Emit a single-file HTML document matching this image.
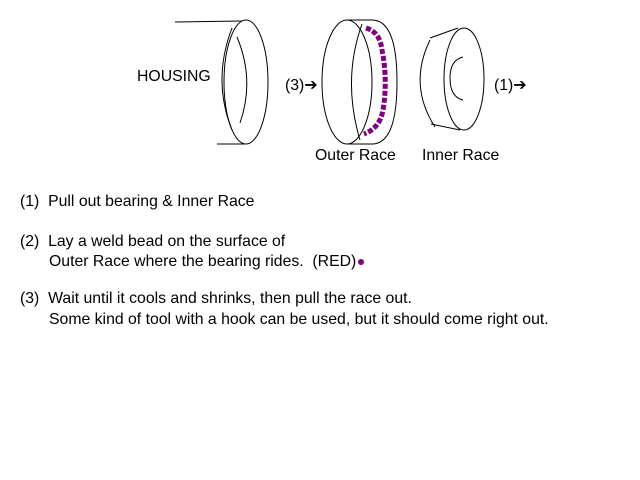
<!DOCTYPE html>
<html><head><style>
body{margin:0;background:#fff;width:640px;height:480px;overflow:hidden;position:relative;font-family:"Liberation Sans",sans-serif;color:#000}
.t{position:absolute;font-size:15.8px;white-space:nowrap}
</style></head><body>
<svg width="640" height="480" style="position:absolute;left:0;top:0" fill="none" stroke="#000" stroke-width="1">
<!-- housing -->
<line x1="175" y1="22" x2="242" y2="21"/>
<line x1="217" y1="144" x2="245" y2="144"/>
<ellipse cx="246" cy="82" rx="22" ry="62"/>
<path d="M232 28 Q212 80 232 130"/>
<path d="M237 37 Q255 80 240 123"/>
<!-- outer race -->
<ellipse cx="347" cy="82" rx="25" ry="62"/>
<line x1="347" y1="20" x2="372" y2="20"/>
<line x1="347" y1="144" x2="372" y2="144"/>
<path d="M372 20 Q397 20 397 82 Q397 144 372 144"/>
<path d="M362 24 Q342 80 360 140"/>
<!-- inner race -->
<path d="M430 40 Q408 85 435 127"/>
<line x1="430" y1="38" x2="458" y2="28"/>
<line x1="431" y1="124" x2="460" y2="130"/>
<ellipse cx="464" cy="79" rx="20" ry="51"/>
<path d="M463 57 Q450 60 450 78 Q450 97 463 100"/>
<g stroke="#800080" stroke-width="5" stroke-dasharray="5 2">
<path d="M366 28 Q380 32 382 50 Q388 80 383 110 Q380 128 364 134"/>
</g>
</svg>
<div class="t" style="left:137px;top:68px">HOUSING</div>
<div class="t" style="left:285px;top:75px">(3)➔</div>
<div class="t" style="left:494px;top:75px">(1)➔</div>
<div class="t" style="left:315px;top:147px">Outer Race</div>
<div class="t" style="left:422px;top:147px">Inner Race</div>
<div class="t" style="left:20px;top:193px">(1)&nbsp; Pull out bearing &amp; Inner Race</div>
<div class="t" style="left:20px;top:233px">(2)&nbsp; Lay a weld bead on the surface of</div>
<div class="t" style="left:49px;top:253px">Outer Race where the bearing rides.&nbsp; (RED)<span style="display:inline-block;width:6px;height:6px;border-radius:3px;background:#800080;margin-left:2px;vertical-align:middle"></span></div>
<div class="t" style="left:20px;top:290px">(3)&nbsp; Wait until it cools and shrinks, then pull the race out.</div>
<div class="t" style="left:49px;top:311px">Some kind of tool with a hook can be used, but it should come right out.</div>
</body></html>
